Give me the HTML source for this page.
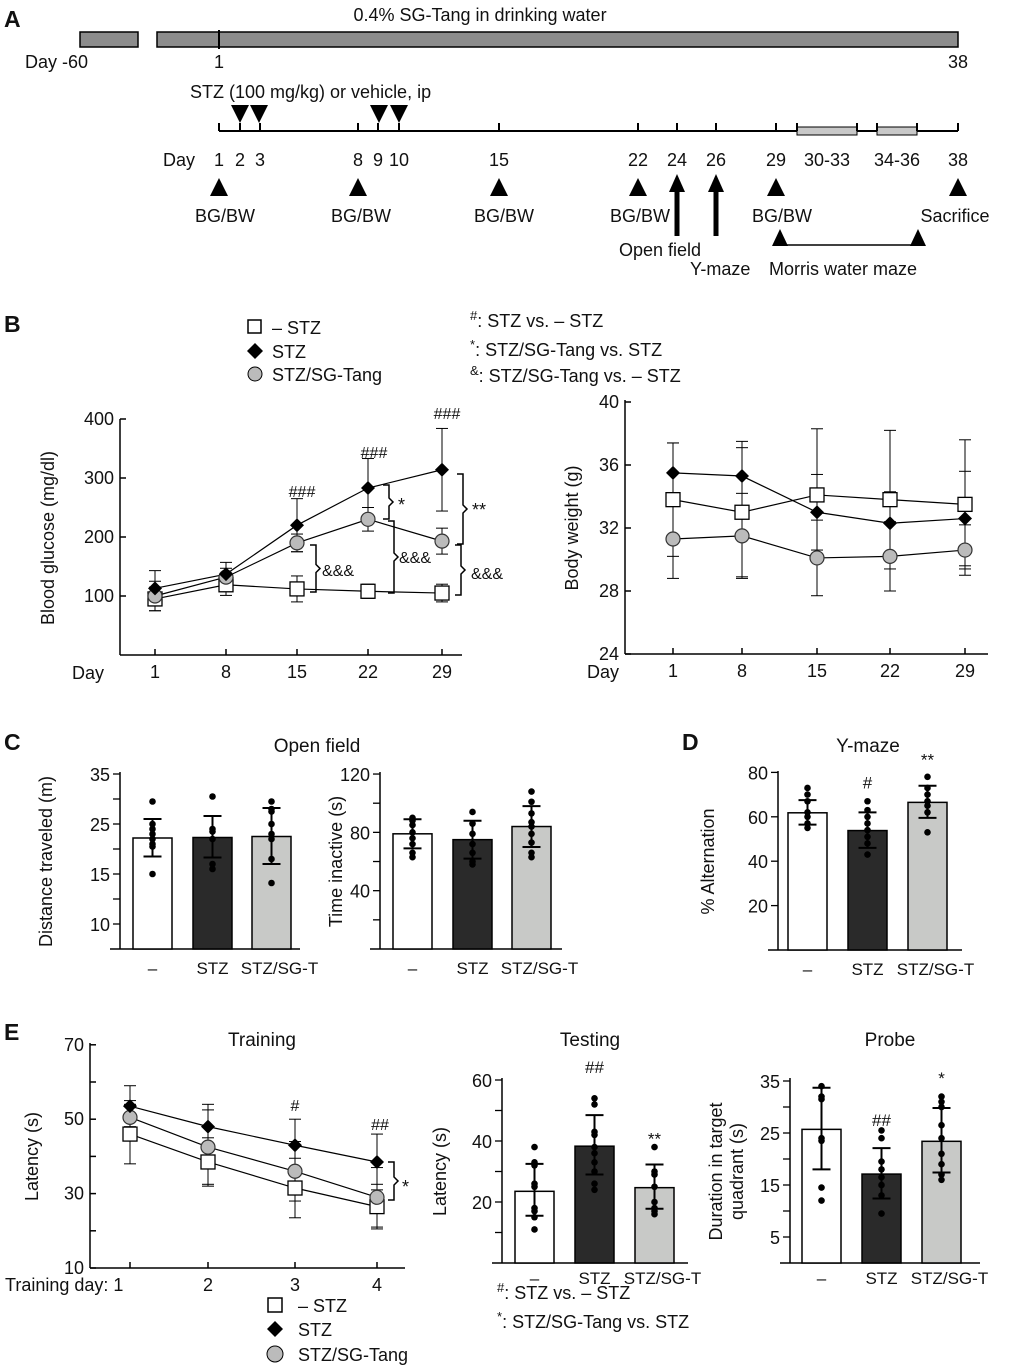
<!DOCTYPE html>
<html><head><meta charset="utf-8"><style>
body{margin:0;background:#fff}
svg{display:block;font-family:"Liberation Sans",Arial,sans-serif}
text{fill:#111}
</style></head><body>
<svg id="fig" width="1020" height="1366" viewBox="0 0 1020 1366">
<g font-size="18">
<text x="4" y="27" font-size="23" font-weight="bold">A</text>
<text x="480" y="21" text-anchor="middle">0.4% SG-Tang in drinking water</text>
<rect x="80" y="32" width="58" height="15" fill="#8c8c8c" stroke="#000" stroke-width="1.5"/>
<rect x="157" y="32" width="801" height="15" fill="#8c8c8c" stroke="#000" stroke-width="1.5"/>
<line x1="219" y1="30" x2="219" y2="49" stroke="#000" stroke-width="2"/>
<text x="25" y="68">Day -60</text>
<text x="219" y="68" text-anchor="middle">1</text>
<text x="958" y="68" text-anchor="middle">38</text>
<text x="190" y="98">STZ (100 mg/kg) or vehicle, ip</text>
<line x1="219" y1="131" x2="958" y2="131" stroke="#000" stroke-width="2"/>
<rect x="797" y="127" width="60" height="8" fill="#c8c8c8" stroke="#000"/>
<rect x="877" y="127" width="40" height="8" fill="#c8c8c8" stroke="#000"/>
<g id="tl"></g>
<text x="163" y="166">Day</text>
<g id="blab" text-anchor="middle"></g>
<line x1="677" y1="236" x2="677" y2="188" stroke="#000" stroke-width="5"/><polygon points="669,192 685,192 677,174" fill="#000"/>
<line x1="716" y1="236" x2="716" y2="188" stroke="#000" stroke-width="5"/><polygon points="708,192 724,192 716,174" fill="#000"/>
<text x="619" y="256">Open field</text>
<text x="690" y="275">Y-maze</text>
<polygon points="772,246 788,246 780,229" fill="#000"/><polygon points="910,246 926,246 918,229" fill="#000"/>
<line x1="780" y1="245" x2="918" y2="245" stroke="#000" stroke-width="1.5"/>
<text x="769" y="275">Morris water maze</text>
</g>
<g font-size="18">
<text x="4" y="332" font-size="23" font-weight="bold">B</text>
<rect x="248" y="320" width="13" height="13" fill="#fff" stroke="#000" stroke-width="1.5"/><text x="272" y="334">– STZ</text>
<polygon points="255,343 263,351 255,359 247,351" fill="#000"/><text x="272" y="358">STZ</text>
<circle cx="255" cy="374" r="7" fill="#bbb" stroke="#000"/><text x="272" y="381">STZ/SG-Tang</text>
<text x="470" y="327"><tspan font-size="13" dy="-7">#</tspan><tspan dy="7">: STZ vs. – STZ</tspan></text>
<text x="470" y="356"><tspan font-size="13" dy="-7">*</tspan><tspan dy="7">: STZ/SG-Tang vs. STZ</tspan></text>
<text x="470" y="382"><tspan font-size="13" dy="-7">&amp;</tspan><tspan dy="7">: STZ/SG-Tang vs. – STZ</tspan></text>
</g>
<g id="charts" font-size="18"></g>
<g font-size="18">
<rect x="268" y="1298" width="14" height="14" fill="#fff" stroke="#000" stroke-width="1.5"/><text x="298" y="1312">– STZ</text>
<polygon points="275,1321 283,1329 275,1337 267,1329" fill="#000"/><text x="298" y="1336">STZ</text>
<circle cx="275" cy="1354" r="8" fill="#bbb" stroke="#000"/><text x="298" y="1361">STZ/SG-Tang</text>
<text x="497" y="1299"><tspan font-size="13" dy="-7">#</tspan><tspan dy="7">: STZ vs. – STZ</tspan></text>
<text x="497" y="1328"><tspan font-size="13" dy="-7">*</tspan><tspan dy="7">: STZ/SG-Tang vs. STZ</tspan></text>
</g>
</svg>
<script>
// ---- data ----
const bgDays=["1","8","15","22","29"];
const bgCtrl=[95,119,112,108,105], bgCtrlErr=[20,18,22,12,15];
const bgStz=[113,137,220,283,314], bgStzErr=[30,20,45,50,70];
const bgSg=[100,132,190,230,193], bgSgErr=[25,15,15,20,22];
const bwCtrl=[33.8,33.0,34.1,33.8,33.5], bwCtrlErr=[3.6,4.1,4.2,4.4,4.1];
const bwStz=[35.5,35.3,33.0,32.3,32.6], bwStzErr=[1.9,2.2,2.4,2.0,3.0];
const bwSg=[31.3,31.5,30.1,30.2,30.6], bwSgErr=[2.5,2.7,2.4,2.2,1.6];
const groups=["–","STZ","STZ/SG-T"];
const distMean=[22.2,22.3,22.5], distLo=[18.5,18.3,17.0], distHi=[26.0,26.6,28.2];
const distDots=[[29.5,25,24,23,22,21,20.5,15],[30.5,24,23.5,22,17,16],[29.5,28,27.5,25,23,22,18,13.2]];
const inactMean=[79,75,84], inactLo=[69,62,70], inactHi=[89,88,98];
const inactDots=[[90,88,85,80,76,72,66,63],[94,86,79,72,66,60,58],[108,101,93,87,84,79,73,66,63]];
const altMean=[61.8,53.8,66.5], altLo=[56.5,46,59.5], altHi=[67.5,62,74];
const altDots=[[73,70,67,62,60,57,55],[67,63,60,57,54,51,48,43],[78,73,70,67,65,62,53]];
const trDays=["1","2","3","4"];
const trCtrl=[46,38.5,31.5,26.5], trCtrlErr=[8,6.5,8,6];
const trStz=[53.5,48,43,38.5], trStzErr=[5.5,6,7,7.5];
const trSg=[50.5,42.5,36,29], trSgErr=[4.5,10,8,8];
const testMean=[23.5,38.3,24.7], testLo=[15.5,29,17.8], testHi=[32.5,48.5,32.3];
const testDots=[[38,33,32,26,25,18,17,15,11],[54,52,43,42,38,36,33,30,26,24],[38,30,29,25,20,18,17,16]];
const probeMean=[25.7,17.1,23.4], probeLo=[18,12.4,17.4], probeHi=[33.7,22.1,29.8];
const probeDots=[[34,32,31.5,24,23.5,14.5,12],[25.5,24,19.5,18,16.5,15,13,9.5],[32,31,30,26.5,24,21,19,17,16]];
const timelineDays=[[219,"1"],[240,"2"],[260,"3"],[358,"8"],[378,"9"],[399,"10"],[499,"15"],[638,"22"],[677,"24"],[716,"26"],[776,"29"],[827,"30-33"],[897,"34-36"],[958,"38"]];
// ---- helpers ----
const NS="http://www.w3.org/2000/svg";
const root=document.getElementById('charts');
function mk(tag,at,parent){const e=document.createElementNS(NS,tag);for(const k in at)e.setAttribute(k,at[k]);(parent||root).appendChild(e);return e;}
function txt(x,y,s,at,parent){const e=mk('text',Object.assign({x:x,y:y},at||{}),parent);e.textContent=s;return e;}
const tl=document.getElementById('tl'), bl=document.getElementById('blab');
[219,240,260,358,378,399,499,638,677,716,776,797,857,877,917,958].forEach(x=>mk('line',{x1:x,y1:123,x2:x,y2:131,stroke:'#000','stroke-width':2},tl));
[240,259,379,399].forEach(x=>{const p=mk('polygon',{points:`${x-9},105 ${x+9},105 ${x},123`,fill:'#000'},tl);

});
timelineDays.forEach(d=>txt(d[0],166,d[1],{},bl));
[219,358,499,638,776,958].forEach(x=>mk('polygon',{points:`${x-9},196 ${x+9},196 ${x},178`,fill:'#000'},tl));
[[225,"BG/BW"],[361,"BG/BW"],[504,"BG/BW"],[640,"BG/BW"],[782,"BG/BW"],[955,"Sacrifice"]].forEach(d=>txt(d[0],222,d[1],{'text-anchor':'middle','font-size':18},tl));

function linChart(o){
  const g=mk('g',{});
  
  
  const y=v=>o.y0-(v-o.vmin)*o.py;
  const x=i=>o.xs[i];
  mk('line',{x1:o.ax,y1:o.ytop-2,x2:o.ax,y2:o.y0,stroke:'#000','stroke-width':1.5},g);
  mk('line',{x1:o.ax,y1:o.y0,x2:o.axEnd,y2:o.y0,stroke:'#000','stroke-width':1.5},g);
  o.ticks.forEach(t=>{mk('line',{x1:o.ax,y1:y(t[0]),x2:o.ax+6,y2:y(t[0]),stroke:'#000','stroke-width':1.5},g);
    if(t[1])txt(o.ax-6,y(t[0])+6,t[1],{'text-anchor':'end'},g);});
  o.cats.forEach((c,i)=>{mk('line',{x1:x(i),y1:o.y0,x2:x(i),y2:o.y0-6,stroke:'#000','stroke-width':1.5},g);
    txt(x(i),o.y0+23,c,{'text-anchor':'middle'},g);});
  const yl=txt(0,0,o.ylabel,{'text-anchor':'middle',transform:`translate(${o.ylx},${(o.ytop+o.y0)/2}) rotate(-90)`},g);
  
  
  o.series.forEach(s=>{
    const sg=mk('g',{},g);
    
    
    s.v.forEach((v,i)=>{const lo=y(v-s.e[i]),hi=y(v+s.e[i]);
      mk('line',{x1:x(i),y1:lo,x2:x(i),y2:hi,stroke:'#000','stroke-width':1},sg);
      mk('line',{x1:x(i)-6,y1:lo,x2:x(i)+6,y2:lo,stroke:'#000','stroke-width':1},sg);
      mk('line',{x1:x(i)-6,y1:hi,x2:x(i)+6,y2:hi,stroke:'#000','stroke-width':1},sg);});
    mk('polyline',{points:s.v.map((v,i)=>x(i)+','+y(v)).join(' '),fill:'none',stroke:'#000','stroke-width':1.2},sg);
  });
  o.series.forEach(s=>{s.v.forEach((v,i)=>{const cx=x(i),cy=y(v);let m;
    if(s.key==='ctrl'){m=mk('rect',{x:cx-7,y:cy-7,width:14,height:14,fill:'#fff',stroke:'#000','stroke-width':1.3},g);}
    else if(s.key==='stz'){m=mk('polygon',{points:`${cx},${cy-7} ${cx+7},${cy} ${cx},${cy+7} ${cx-7},${cy}`,fill:'#000'},g);}
    else {m=mk('circle',{cx:cx,cy:cy,r:7,fill:'#bbb',stroke:'#333','stroke-width':1.2},g);}
    
    });});
  return {g:g,y:y};
}
function bracket(g,x,y1,y2){mk('path',{d:`M${x},${y1} h6 v${(y2-y1)/2-4} l4,4 l-4,4 V${y2} h-6`,fill:'none',stroke:'#000','stroke-width':1.5},g);}

const bL=linChart({name:'blood-glucose-chart',ax:120,axEnd:462,y0:655,ytop:421,vmin:0,py:0.59,
 ticks:[[100,'100'],[200,'200'],[300,'300'],[400,'400']],cats:bgDays,xs:[155,226,297,368,442],ylabel:'Blood glucose (mg/dl)',ylx:54,
 series:[{key:'ctrl',v:bgCtrl,e:bgCtrlErr},{key:'sg',v:bgSg,e:bgSgErr},{key:'stz',v:bgStz,e:bgStzErr}]});
txt(72,679,'Day',{},bL.g);
txt(302,497,'###',{'text-anchor':'middle','font-size':16},bL.g);
txt(374,458,'###',{'text-anchor':'middle','font-size':16},bL.g);
txt(447,419,'###',{'text-anchor':'middle','font-size':16},bL.g);
bracket(bL.g,383,485,519);txt(398,511,'*',{},bL.g);
bracket(bL.g,457,474,544);txt(472,516,'**',{},bL.g);
bracket(bL.g,310,545,592);txt(322,576,'&&&',{'font-size':16},bL.g);
bracket(bL.g,388,521,593);txt(399,563,'&&&',{'font-size':16},bL.g);
bracket(bL.g,455,545,595);txt(471,579,'&&&',{'font-size':16},bL.g);
const bR=linChart({name:'body-weight-chart',ax:625,axEnd:988,y0:654,ytop:402,vmin:24,py:15.75,
 ticks:[[24,'24'],[28,'28'],[32,'32'],[36,'36'],[40,'40']],cats:bgDays,xs:[673,742,817,890,965],ylabel:'Body weight (g)',ylx:578,
 series:[{key:'ctrl',v:bwCtrl,e:bwCtrlErr},{key:'stz',v:bwStz,e:bwStzErr},{key:'sg',v:bwSg,e:bwSgErr}]});
txt(587,678,'Day',{},bR.g);

const fills=['#fff','#2a2a2a','#c8c9c7'];
const labelShift=[0,0,8];
function barChart(o){
  const g=mk('g',{});
  
  
  const y=v=>o.y0-(v-o.vmin)*o.py;
  mk('line',{x1:o.ax,y1:o.ytop-2,x2:o.ax,y2:o.y0,stroke:'#000','stroke-width':1.5},g);
  mk('line',{x1:o.ax-10,y1:o.y0,x2:o.axEnd,y2:o.y0,stroke:'#000','stroke-width':1.5},g);
  o.ticks.forEach(t=>{mk('line',{x1:o.ax-7,y1:y(t[0]),x2:o.ax,y2:y(t[0]),stroke:'#000','stroke-width':1.3},g);
    if(t[1])txt(o.ax-10,y(t[0])+7,t[1],{'text-anchor':'end'},g);});
  groups.forEach((c,i)=>{const bx=o.bx[i];
    const r=mk('rect',{x:bx,y:y(o.mean[i]),width:39,height:o.y0-y(o.mean[i]),fill:fills[i],stroke:'#000','stroke-width':1.5},g);
    
    
    const cx=bx+19.5;
    o.dots[i].forEach(d=>mk('circle',{cx:cx,cy:y(d),r:3.3,fill:'#000'},g));
    const lo=y(o.lo[i]),hi=y(o.hi[i]);
    mk('line',{x1:cx,y1:lo,x2:cx,y2:hi,stroke:'#000','stroke-width':2},g);
    mk('line',{x1:cx-9,y1:lo,x2:cx+9,y2:lo,stroke:'#000','stroke-width':2},g);
    mk('line',{x1:cx-9,y1:hi,x2:cx+9,y2:hi,stroke:'#000','stroke-width':2},g);
    const t=txt(cx+labelShift[i],o.y0+(o.labOff||25),c,{'text-anchor':'middle','font-size':17},g);
    
    
    if(o.sig&&o.sig[i])txt(cx,y(o.hi[i])-12-(o.sigOff?o.sigOff[i]:2),o.sig[i],{'text-anchor':'middle','font-size':17},g);
  });
  o.ylabel.forEach((l,k)=>{txt(0,0,l,{'text-anchor':'middle',transform:`translate(${o.ylx+k*21},${(o.ytop+o.y0)/2}) rotate(-90)`},g);});
  return g;
}
txt(4,750,'C',{'font-size':23,'font-weight':'bold'});
txt(317,752,'Open field',{'text-anchor':'middle','font-size':19});
barChart({name:'distance-chart',ax:120,axEnd:300,y0:949,ytop:774,vmin:0,py:5.0,bx:[133,193,252],
 ticks:[[35,'35'],[30,''],[25,'25'],[20,''],[15,'15'],[10,''],[5,'10']],mean:distMean,lo:distLo,hi:distHi,dots:distDots,ylabel:['Distance traveled (m)'],ylx:52});
barChart({name:'time-inactive-chart',ax:380,axEnd:562,y0:949,ytop:774,vmin:0,py:1.458,bx:[393,453,512],
 ticks:[[120,'120'],[100,''],[80,'80'],[60,''],[40,'40'],[20,'']],mean:inactMean,lo:inactLo,hi:inactHi,dots:inactDots,ylabel:['Time inactive (s)'],ylx:342});
txt(682,750,'D',{'font-size':23,'font-weight':'bold'});
txt(868,752,'Y-maze',{'text-anchor':'middle','font-size':19});
barChart({name:'y-maze-chart',ax:778,axEnd:962,y0:950,ytop:773,vmin:0,py:2.22,bx:[788,848,908],
 ticks:[[80,'80'],[60,'60'],[40,'40'],[20,'20']],mean:altMean,lo:altLo,hi:altHi,dots:altDots,ylabel:['% Alternation'],ylx:714,
 sig:['','#','**'],sigOff:[0,12,8]});

txt(4,1040,'E',{'font-size':23,'font-weight':'bold'});
txt(262,1046,'Training',{'text-anchor':'middle','font-size':19});
txt(590,1046,'Testing',{'text-anchor':'middle','font-size':19});
txt(890,1046,'Probe',{'text-anchor':'middle','font-size':19});
const tr=linChart({name:'training-chart',ax:90,axEnd:405,y0:1268,ytop:1045,vmin:10,py:3.72,
 ticks:[[10,'10'],[20,''],[30,'30'],[40,''],[50,'50'],[60,''],[70,'70']],cats:['','2','3','4'],xs:[130,208,295,377],ylabel:'Latency (s)',ylx:38,
 series:[{key:'ctrl',v:trCtrl,e:trCtrlErr},{key:'sg',v:trSg,e:trSgErr},{key:'stz',v:trStz,e:trStzErr}]});
txt(5,1291,'Training day: 1',{},tr.g);
txt(295,1111,'#',{'text-anchor':'middle','font-size':16},tr.g);
txt(380,1130,'##',{'text-anchor':'middle','font-size':16},tr.g);
bracket(tr.g,388,1162,1200);txt(402,1193,'*',{},tr.g);
barChart({name:'testing-chart',ax:502,axEnd:688,y0:1263,ytop:1080,vmin:0,py:3.05,bx:[515,575,635],labOff:21,
 ticks:[[60,'60'],[50,''],[40,'40'],[30,''],[20,'20'],[10,'']],mean:testMean,lo:testLo,hi:testHi,dots:testDots,ylabel:['Latency (s)'],ylx:446,
 sig:['','##','**'],sigOff:[0,30,8]});
barChart({name:'probe-chart',ax:790,axEnd:980,y0:1263,ytop:1080,vmin:0,py:5.2,bx:[802,862,922],labOff:21,
 ticks:[[35,'35'],[30,''],[25,'25'],[20,''],[15,'15'],[10,''],[5,'5']],mean:probeMean,lo:probeLo,hi:probeHi,dots:probeDots,ylabel:['Duration in target','quadrant (s)'],ylx:722,
 sig:['','##','*'],sigOff:[0,10,12]});
</script>
</body></html>
